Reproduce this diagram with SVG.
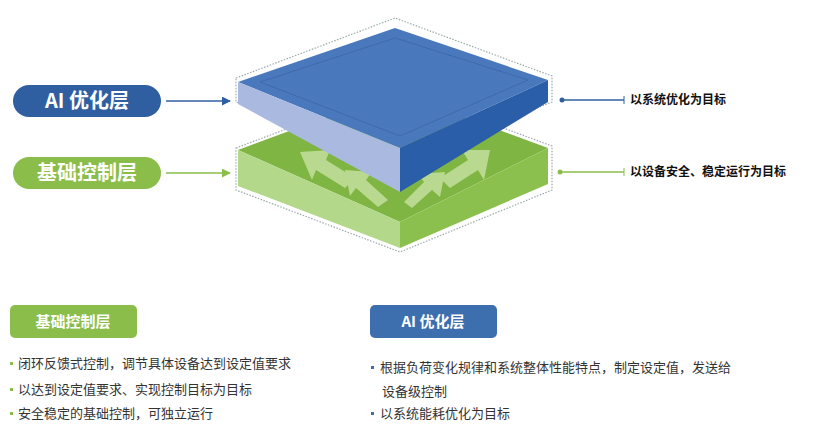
<svg xmlns="http://www.w3.org/2000/svg" width="832" height="446" viewBox="0 0 832 446">
<defs>
<style>
text{font-family:"Noto Sans CJK SC","Liberation Sans",sans-serif}
.pill{font-size:20px;font-weight:bold;fill:#fff}
.goal{font-size:12px;font-weight:bold;fill:#111}
.tag{font-size:15px;font-weight:bold;fill:#fff}
.b{font-size:13px;fill:#333}
.dot{fill:none;stroke:#9aa;stroke-width:1.2;stroke-dasharray:1.5 1.5}
</style>
<marker id="ab" viewBox="0 0 10 10" refX="9" refY="5" markerWidth="6" markerHeight="6" orient="auto"><path d="M0,0L10,5L0,10z" fill="#2f5fa0"/></marker>
<marker id="ag" viewBox="0 0 10 10" refX="9" refY="5" markerWidth="6" markerHeight="6" orient="auto"><path d="M0,0L10,5L0,10z" fill="#8bbd4a"/></marker>
</defs>
<rect width="832" height="446" fill="#fff"/>
<g id="green-slab">
<polygon class="dot" points="236,148 395,88 552,146 552,190 400,252 236,190" stroke="#9c6"/>
<polygon points="238,150 395,92 548,148 400,222" fill="#7fb542"/>
<polygon points="238,150 400,222 400,248 238,186" fill="#b4d88a"/>
<polygon points="548,148 548,184 400,248 400,222" fill="#8cc04e"/>
<g fill="#c4e09f" opacity="0.85">
<polygon points="300,152 330,150 326,160 355,178 345,188 316,170 312,180"/>
<polygon points="345,170 372,172 366,180 388,200 378,207 356,188 350,196"/>
<polygon points="490,150 462,150 468,160 440,178 450,188 478,170 484,180"/>
<polygon points="445,172 418,174 424,182 404,202 412,208 432,190 440,197"/>
</g>
</g>
<g id="blue-slab">
<polygon class="dot" points="236,78 395,18 552,76 552,102 400,162 236,102" stroke="#99b"/>
<polygon points="238,82 395,28 548,80 400,148" fill="#4a78bc"/>
<polygon points="260,82 395,38 528,80 400,136" fill="none" stroke="#3f6aab" stroke-width="1"/>
<polygon points="238,82 400,148 400,192 238,104" fill="#a9b9e0"/>
<polygon points="548,80 548,102 400,192 400,148" fill="#2a5ea8"/>
</g>
<g id="ai-pill">
<rect x="13" y="85" width="148" height="32" rx="16" fill="#2f5fa0"/>
<text class="pill" x="87" y="108" text-anchor="middle">AI 优化层</text>
</g>
<g id="base-pill">
<rect x="13" y="157" width="148" height="32" rx="16" fill="#8bbd4a"/>
<text class="pill" x="87" y="180" text-anchor="middle">基础控制层</text>
</g>
<g id="connectors">
<line x1="166" y1="101" x2="230" y2="101" stroke="#2f5fa0" stroke-width="1.5" marker-end="url(#ab)"/>
<line x1="166" y1="173" x2="230" y2="173" stroke="#8bbd4a" stroke-width="1.5" marker-end="url(#ag)"/>
<circle cx="562" cy="100" r="2.5" fill="#2f5fa0"/>
<line x1="562" y1="100" x2="624" y2="100" stroke="#2f5fa0" stroke-width="1.5"/>
<line x1="624" y1="96" x2="624" y2="104" stroke="#2f5fa0"/>
<circle cx="560" cy="172" r="2.5" fill="#8bbd4a"/>
<line x1="560" y1="172" x2="624" y2="172" stroke="#8bbd4a" stroke-width="1.5"/>
<line x1="624" y1="168" x2="624" y2="176" stroke="#8bbd4a"/>
</g>
<g id="goal-ai"><text class="goal" x="630" y="104">以系统优化为目标</text></g>
<g id="goal-base"><text class="goal" x="630" y="176">以设备安全、稳定运行为目标</text></g>
<g id="tag-base">
<rect x="10" y="305" width="127" height="33" rx="5" fill="#8bbd4a"/>
<text class="tag" x="73" y="327" text-anchor="middle">基础控制层</text>
</g>
<g id="tag-ai">
<rect x="370" y="305" width="127" height="33" rx="5" fill="#3d6ead"/>
<text class="tag" x="433" y="327" text-anchor="middle">AI 优化层</text>
</g>
<g id="list-base" fill="#8bbd4a">
<rect x="10" y="362" width="3" height="3"/><text class="b" x="18" y="368">闭环反馈式控制，调节具体设备达到设定值要求</text>
<rect x="10" y="388" width="3" height="3"/><text class="b" x="18" y="394">以达到设定值要求、实现控制目标为目标</text>
<rect x="10" y="412" width="3" height="3"/><text class="b" x="18" y="418">安全稳定的基础控制，可独立运行</text>
</g>
<g id="list-ai" fill="#3d6ead">
<rect x="371" y="366" width="3" height="3"/><text class="b" x="380" y="372">根据负荷变化规律和系统整体性能特点，制定设定值，发送给</text>
<text class="b" x="382" y="396">设备级控制</text>
<rect x="371" y="412" width="3" height="3"/><text class="b" x="380" y="418">以系统能耗优化为目标</text>
</g>
</svg>
